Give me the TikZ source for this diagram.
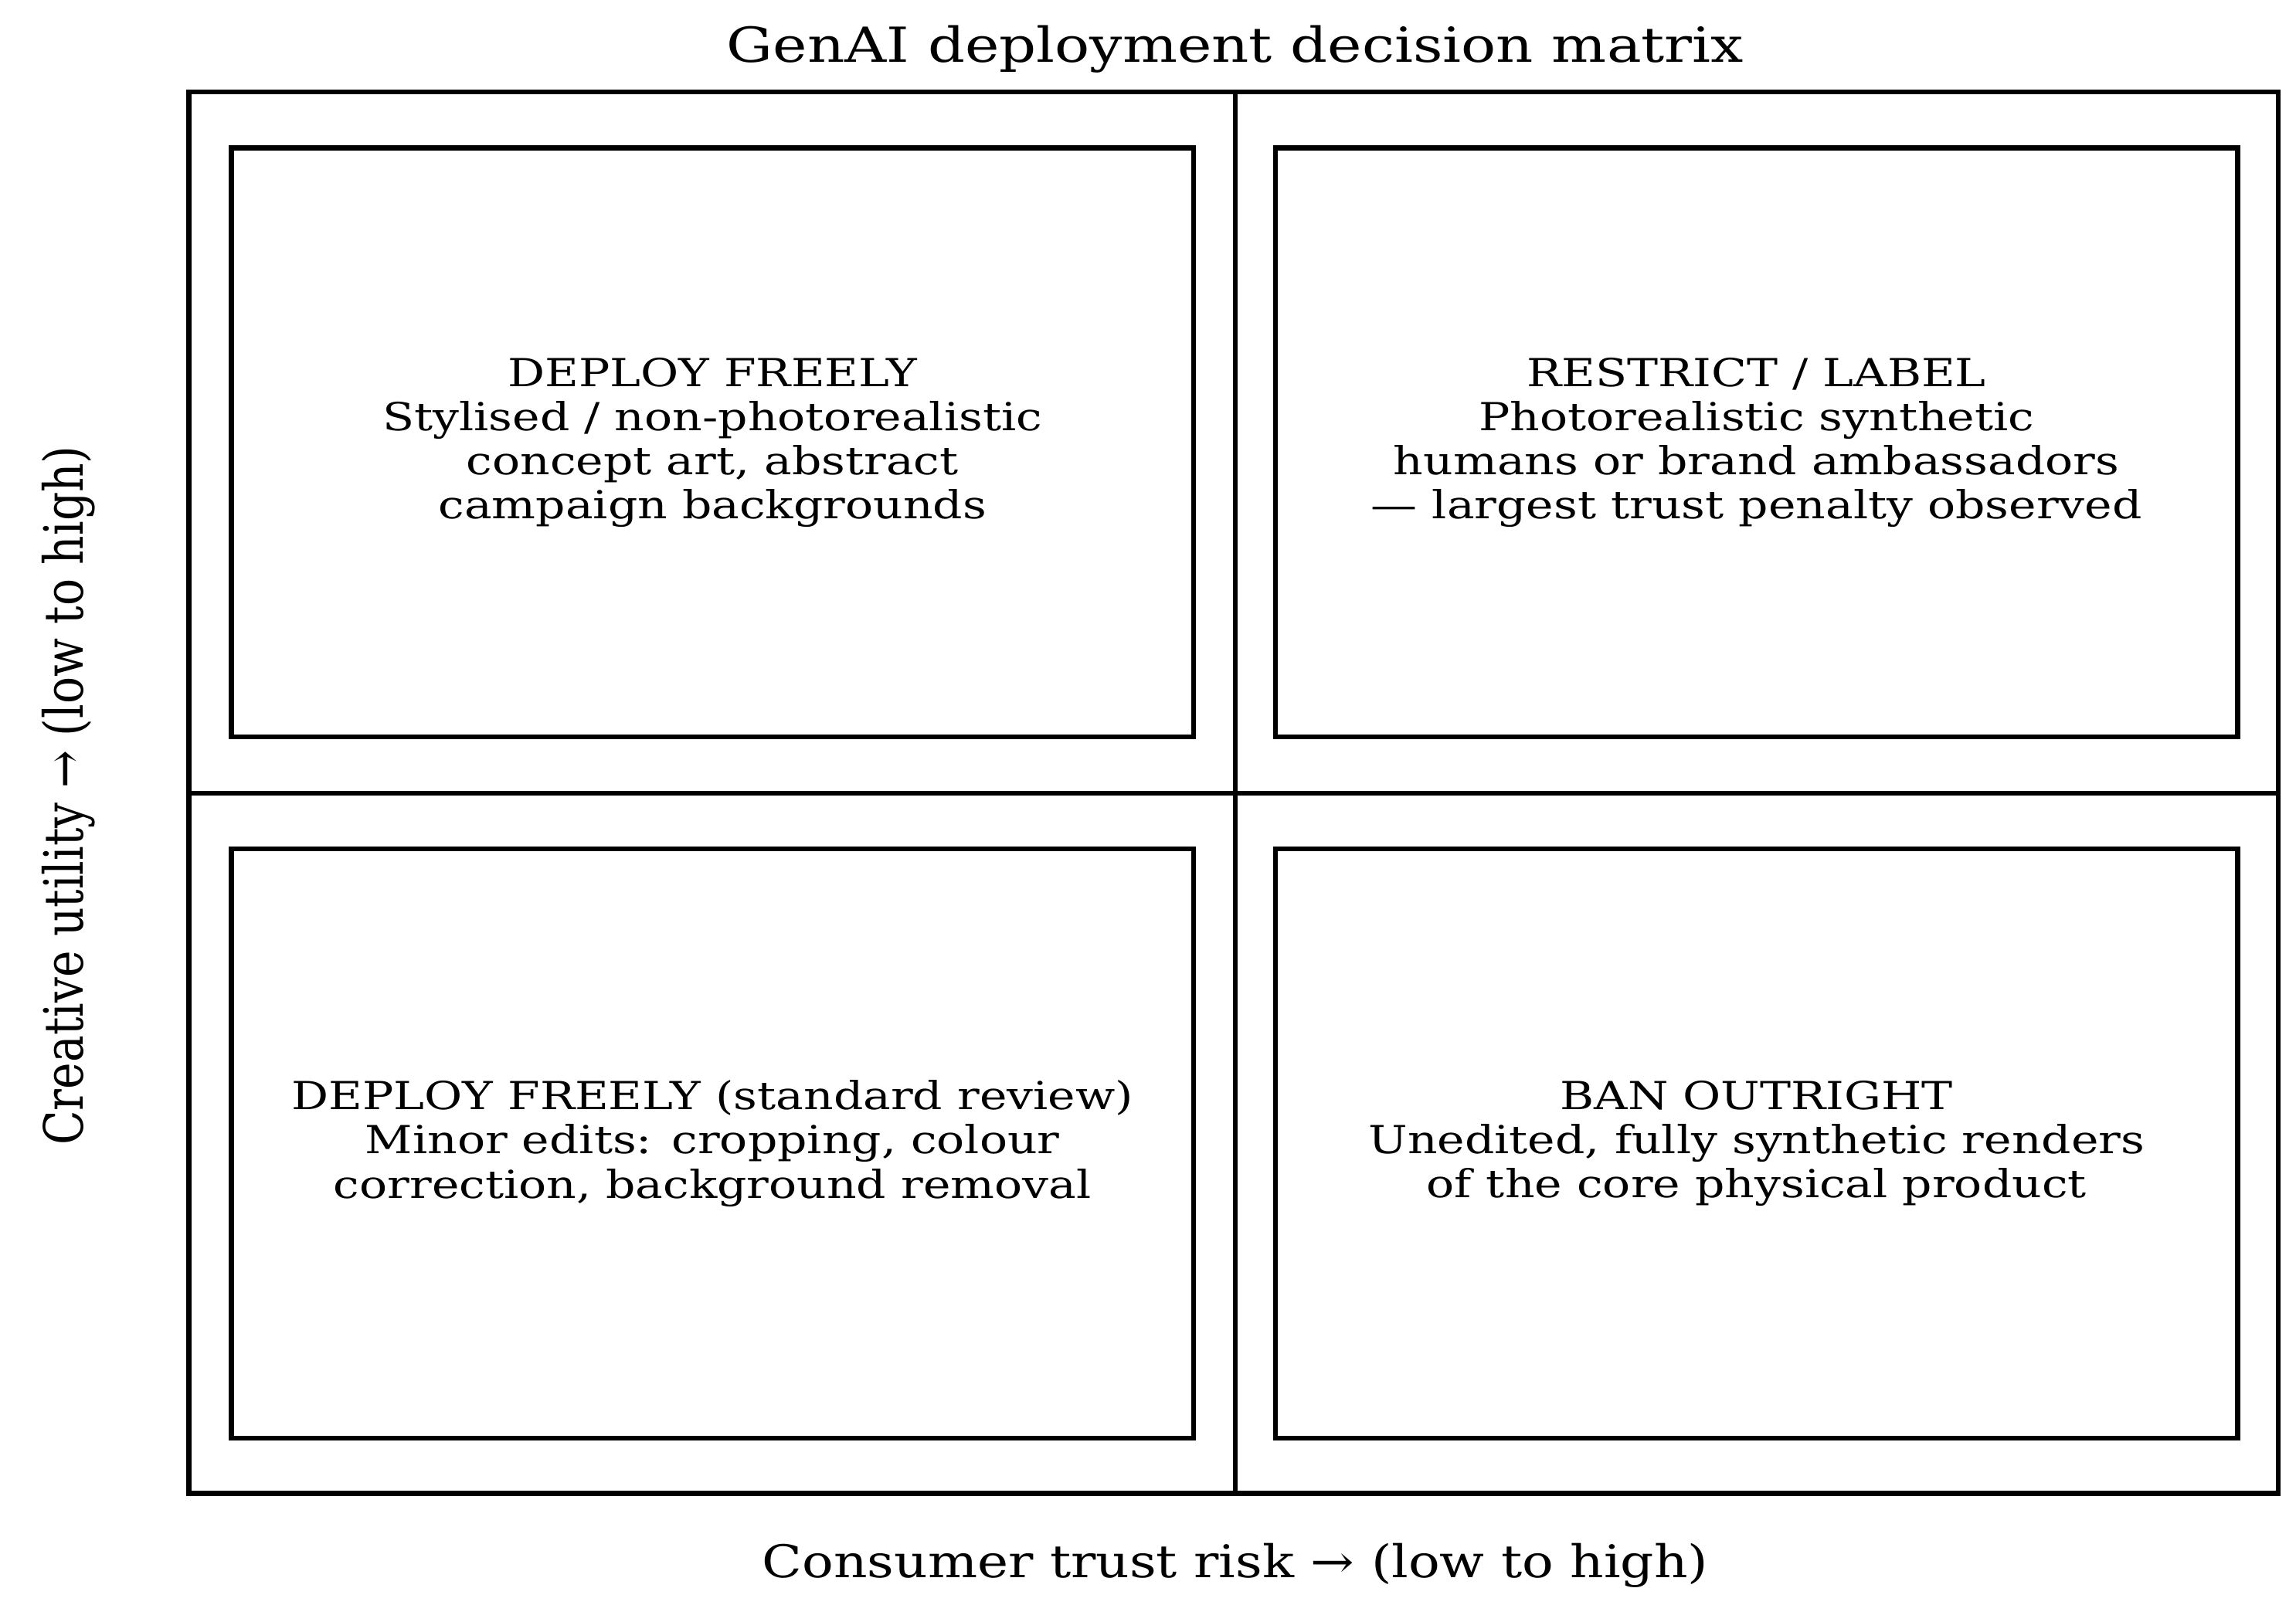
\documentclass[tikz,border=0pt]{standalone}
\usepackage{graphicx}
\usepackage{fontspec}
\setmainfont{DejaVu Serif}[FakeStretch=1.2]
\newfontfamily\axisfont{DejaVu Serif}[FakeStretch=1.16]
\newfontfamily\plainfont{DejaVu Serif}
\usetikzlibrary{positioning}

\tikzset{
  cell/.style={draw,line width=1.5pt,minimum width=298.9pt,minimum height=183pt,inner sep=0pt,align=center,font=\fontsize{12}{13.7}\selectfont},
  axislabel/.style={font=\fontsize{14}{16}\selectfont,inner sep=0pt}
}

\begin{document}
\begin{tikzpicture}[x=24pt,y=24pt]
\useasboundingbox (0,0) rectangle (29.72,20.78);

% frame and quadrant lines
\coordinate (sw) at (2.445,1.445);
\coordinate (ne) at (29.49,19.59);
\draw[line width=1.5pt] (sw) rectangle (ne);
\draw[line width=1.5pt] (15.99,1.445) -- (15.99,19.59);
\draw[line width=1.5pt] (2.445,10.51) -- (29.49,10.51);

% quadrants
\node[cell] (tl) at (9.2225,15.0525) {DEPLOY FREELY\\Stylised / non-photorealistic\\concept art, abstract\\campaign backgrounds};
\node[cell] (tr) at (22.7375,15.0525) {RESTRICT / LABEL\\Photorealistic synthetic\\humans or brand ambassadors\\— largest trust penalty observed};
\node[cell] (bl) at (9.2225,5.975) {DEPLOY FREELY (standard review)\\Minor edits: cropping, colour\\correction, background removal};
\node[cell] (br) at (22.7375,5.975) {BAN OUTRIGHT\\Unedited, fully synthetic renders\\of the core physical product};

% titles
\node[anchor=base,font=\fontsize{15}{18}\selectfont,inner sep=0pt] (title) at (15.99,19.97) {GenAI deployment decision matrix};
\node[axislabel,anchor=base] (xlab) at (15.99,0.35) {\axisfont Consumer trust risk → (low to high)};
\node[axislabel,anchor=base,rotate=90] (ylab) at (1.07,10.48) {\scalebox{1}[1.2]{\plainfont Creative utility → (low to high)}};
\end{tikzpicture}
\end{document}
